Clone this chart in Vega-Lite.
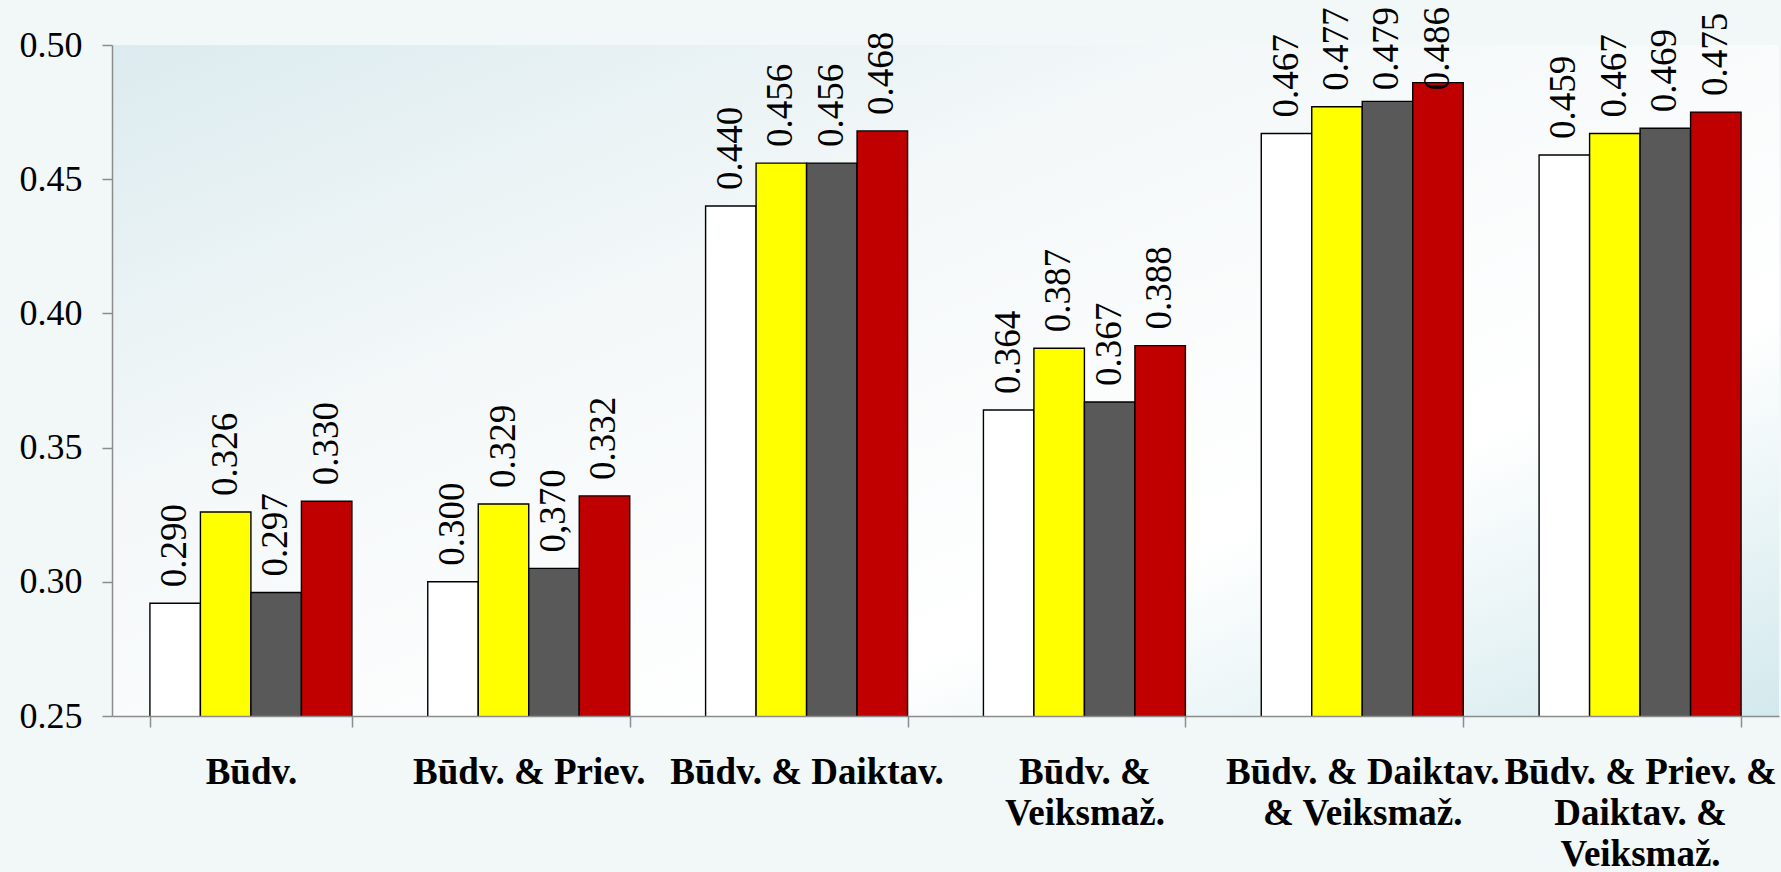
{
  "$schema": "https://vega.github.io/schema/vega-lite/v6.json",
  "width": 1667,
  "height": 671,
  "autosize": {"type": "none"},
  "padding": {"left": 112, "top": 45, "right": 2, "bottom": 156},
  "background": "#f2f7f8",
  "config": {
    "view": {
      "stroke": null,
      "fill": {"gradient": "linear", "x1": 0, "y1": 0, "x2": 1, "y2": 1,
        "stops": [
          {"offset": 0, "color": "#dcebef"},
          {"offset": 0.35, "color": "#f4f8f9"},
          {"offset": 0.7, "color": "#ffffff"},
          {"offset": 1, "color": "#d3e9ed"}
        ]}
    },
    "font": "Liberation Serif",
    "text": {"font": "Liberation Serif"}
  },
  "data": {
    "values": [
      {"g": "Būdv.", "s": "Series 1", "v": 0.292, "label": "0.290"},
      {"g": "Būdv.", "s": "Series 2", "v": 0.326, "label": "0.326"},
      {"g": "Būdv.", "s": "Series 3", "v": 0.296, "label": "0.297"},
      {"g": "Būdv.", "s": "Series 4", "v": 0.330, "label": "0.330"},
      {"g": "Būdv. & Priev.", "s": "Series 1", "v": 0.300, "label": "0.300"},
      {"g": "Būdv. & Priev.", "s": "Series 2", "v": 0.329, "label": "0.329"},
      {"g": "Būdv. & Priev.", "s": "Series 3", "v": 0.305, "label": "0,370"},
      {"g": "Būdv. & Priev.", "s": "Series 4", "v": 0.332, "label": "0.332"},
      {"g": "Būdv. & Daiktav.", "s": "Series 1", "v": 0.440, "label": "0.440"},
      {"g": "Būdv. & Daiktav.", "s": "Series 2", "v": 0.456, "label": "0.456"},
      {"g": "Būdv. & Daiktav.", "s": "Series 3", "v": 0.456, "label": "0.456"},
      {"g": "Būdv. & Daiktav.", "s": "Series 4", "v": 0.468, "label": "0.468"},
      {"g": "Būdv. & Veiksmaž.", "s": "Series 1", "v": 0.364, "label": "0.364"},
      {"g": "Būdv. & Veiksmaž.", "s": "Series 2", "v": 0.387, "label": "0.387"},
      {"g": "Būdv. & Veiksmaž.", "s": "Series 3", "v": 0.367, "label": "0.367"},
      {"g": "Būdv. & Veiksmaž.", "s": "Series 4", "v": 0.388, "label": "0.388"},
      {"g": "Būdv. & Daiktav. & Veiksmaž.", "s": "Series 1", "v": 0.467, "label": "0.467"},
      {"g": "Būdv. & Daiktav. & Veiksmaž.", "s": "Series 2", "v": 0.477, "label": "0.477"},
      {"g": "Būdv. & Daiktav. & Veiksmaž.", "s": "Series 3", "v": 0.479, "label": "0.479"},
      {"g": "Būdv. & Daiktav. & Veiksmaž.", "s": "Series 4", "v": 0.486, "label": "0.486"},
      {"g": "Būdv. & Priev. & Daiktav. & Veiksmaž.", "s": "Series 1", "v": 0.459, "label": "0.459"},
      {"g": "Būdv. & Priev. & Daiktav. & Veiksmaž.", "s": "Series 2", "v": 0.467, "label": "0.467"},
      {"g": "Būdv. & Priev. & Daiktav. & Veiksmaž.", "s": "Series 3", "v": 0.469, "label": "0.469"},
      {"g": "Būdv. & Priev. & Daiktav. & Veiksmaž.", "s": "Series 4", "v": 0.475, "label": "0.475"}
    ]
  },
  "encoding": {
    "x": {
      "field": "g", "type": "nominal",
      "sort": ["Būdv.", "Būdv. & Priev.", "Būdv. & Daiktav.", "Būdv. & Veiksmaž.", "Būdv. & Daiktav. & Veiksmaž.", "Būdv. & Priev. & Daiktav. & Veiksmaž."],
      "scale": {"paddingInner": 0.273, "paddingOuter": 0.1365},
      "axis": {
        "title": null,
        "labelAngle": 0,
        "labelFont": "Liberation Serif",
        "labelFontSize": 37,
        "labelFontWeight": "bold",
        "labelColor": "#000000",
        "labelLimit": 500,
        "labelOverlap": false,
        "labelPadding": 27,
        "labelLineHeight": 41,
        "tickBand": "extent",
        "tickSize": 11,
        "tickColor": "#8c8c8c",
        "tickWidth": 1.5,
        "domainColor": "#8c8c8c",
        "domainWidth": 1.5,
        "zindex": 1,
        "labelExpr": "datum.value == 'Būdv. & Veiksmaž.' ? ['Būdv. &', 'Veiksmaž.'] : datum.value == 'Būdv. & Daiktav. & Veiksmaž.' ? ['Būdv. & Daiktav.', '& Veiksmaž.'] : datum.value == 'Būdv. & Priev. & Daiktav. & Veiksmaž.' ? ['Būdv. & Priev. &', 'Daiktav. &', 'Veiksmaž.'] : datum.value"
      }
    },
    "xOffset": {
      "field": "s", "type": "nominal",
      "sort": ["Series 1", "Series 2", "Series 3", "Series 4"],
      "scale": {"paddingInner": 0, "paddingOuter": 0}
    }
  },
  "layer": [
    {
      "mark": {"type": "bar", "stroke": "#000000", "strokeWidth": 1.4, "clip": true},
      "encoding": {
        "y": {
          "field": "v", "type": "quantitative",
          "scale": {"domain": [0.25, 0.5], "zero": false, "nice": false},
          "axis": {
            "title": null,
            "values": [0.25, 0.3, 0.35, 0.4, 0.45, 0.5],
            "format": ".2f",
            "grid": false,
            "labelFont": "Liberation Serif",
            "labelFontSize": 36,
            "labelColor": "#000000",
            "labelPadding": 20,
            "tickSize": 10,
            "tickColor": "#8c8c8c",
            "tickWidth": 1.5,
            "domainColor": "#8c8c8c",
            "domainWidth": 1.5
          }
        },
        "color": {
          "field": "s", "type": "nominal",
          "scale": {"domain": ["Series 1", "Series 2", "Series 3", "Series 4"], "range": ["#ffffff", "#ffff00", "#595959", "#c00000"]},
          "legend": null
        }
      }
    },
    {
      "transform": [{"calculate": "min(datum.v, 0.4772)", "as": "labelAnchor"}],
      "mark": {"type": "text", "angle": 270, "align": "left", "baseline": "middle", "dx": 16, "fontSize": 37, "font": "Liberation Serif", "color": "#000000"},
      "encoding": {
        "y": {"field": "labelAnchor", "type": "quantitative"},
        "text": {"field": "label"}
      }
    }
  ]
}
